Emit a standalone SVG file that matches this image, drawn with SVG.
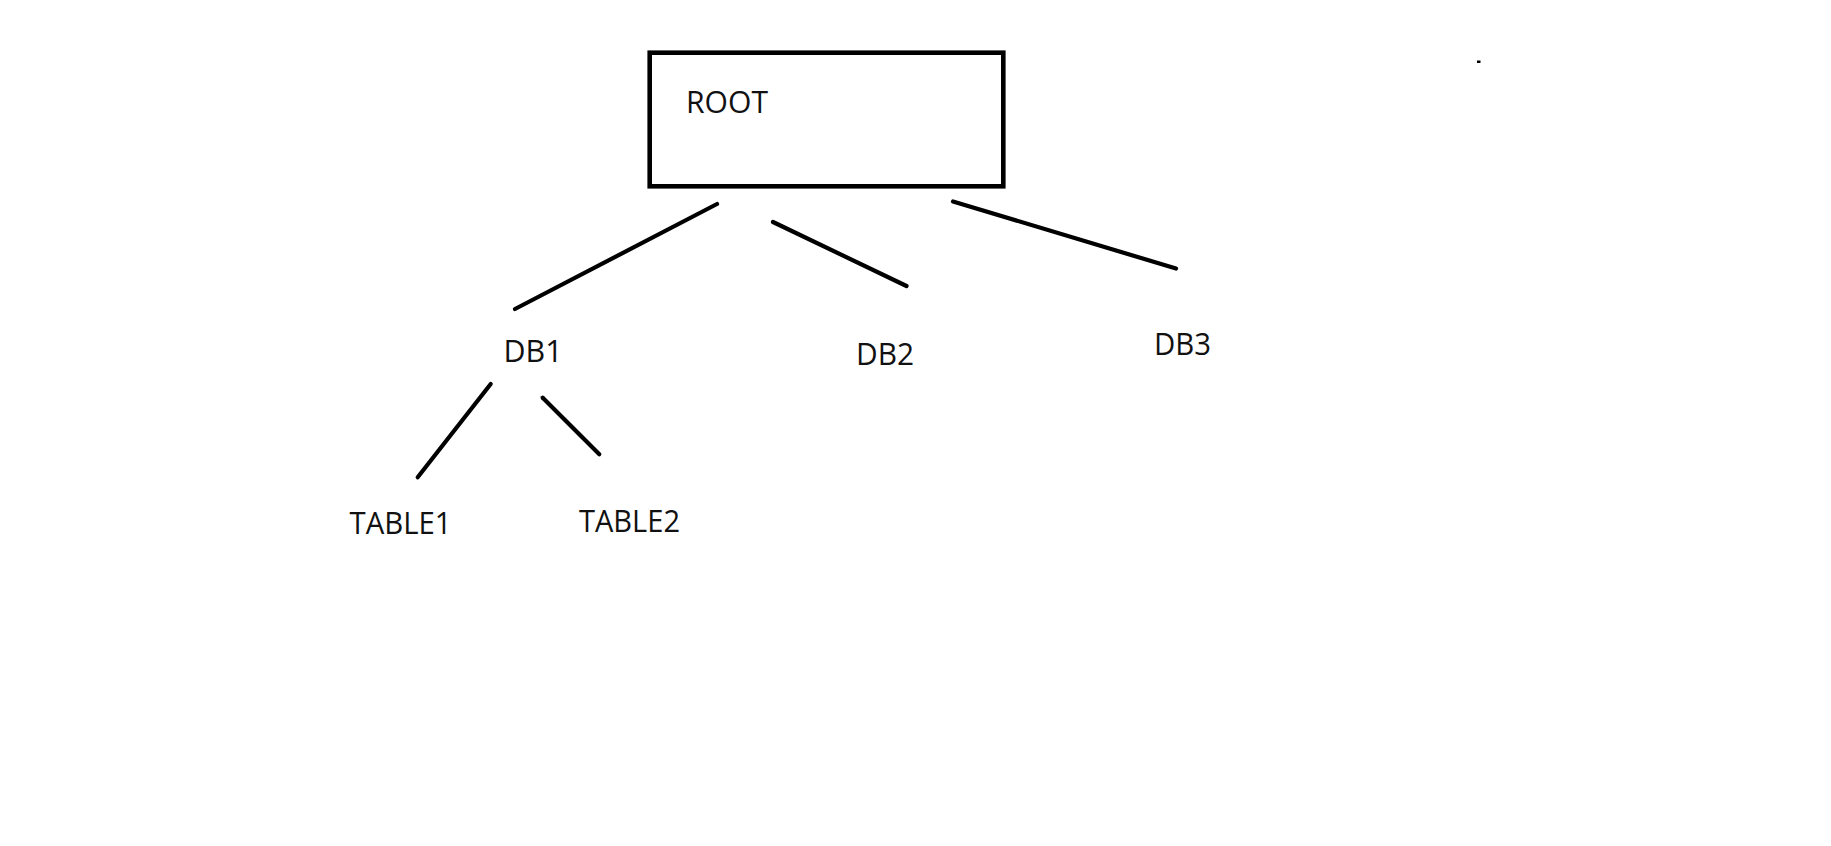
<svg xmlns="http://www.w3.org/2000/svg" width="1831" height="846" viewBox="0 0 1831 846">
<style>
  .lbl { font-family: "Open Sans", "Noto Sans", "Liberation Sans", sans-serif; font-size: 31px; fill: #111; }
  .edge { stroke: #000; stroke-width: 4.2; stroke-linecap: round; fill: none; }
  .box { fill: #fff; stroke: #000; stroke-width: 4.6; }
</style>
<rect width="1831" height="846" fill="#fff"/>
<g id="root">
  <rect class="box" x="649.7" y="52.7" width="353.6" height="133.6"/>
  <text class="lbl" x="686" y="112.5" textLength="82" lengthAdjust="spacingAndGlyphs">ROOT</text>
</g>
<g id="db1"><text class="lbl" x="503.5" y="361.5" textLength="59" lengthAdjust="spacingAndGlyphs">DB1</text></g>
<g id="db2"><text class="lbl" x="856" y="364.5" textLength="58" lengthAdjust="spacingAndGlyphs">DB2</text></g>
<g id="db3"><text class="lbl" x="1154" y="354.5" textLength="57" lengthAdjust="spacingAndGlyphs">DB3</text></g>
<g id="table1"><text class="lbl" x="349.5" y="533.5" textLength="102" lengthAdjust="spacingAndGlyphs">TABLE1</text></g>
<g id="table2"><text class="lbl" x="579" y="531.5" textLength="101" lengthAdjust="spacingAndGlyphs">TABLE2</text></g>
<g id="connectors">
  <line class="edge" x1="717" y1="204" x2="515" y2="309"/>
  <line class="edge" x1="773" y1="222" x2="906.5" y2="286"/>
  <line class="edge" x1="953" y1="201.5" x2="1176" y2="268.5"/>
  <line class="edge" x1="490.7" y1="384" x2="417.7" y2="477.3"/>
  <line class="edge" x1="542.7" y1="397.7" x2="599.3" y2="454.3"/>
</g>
<rect x="1477" y="60.5" width="3.5" height="2.5" fill="#000"/>
</svg>
